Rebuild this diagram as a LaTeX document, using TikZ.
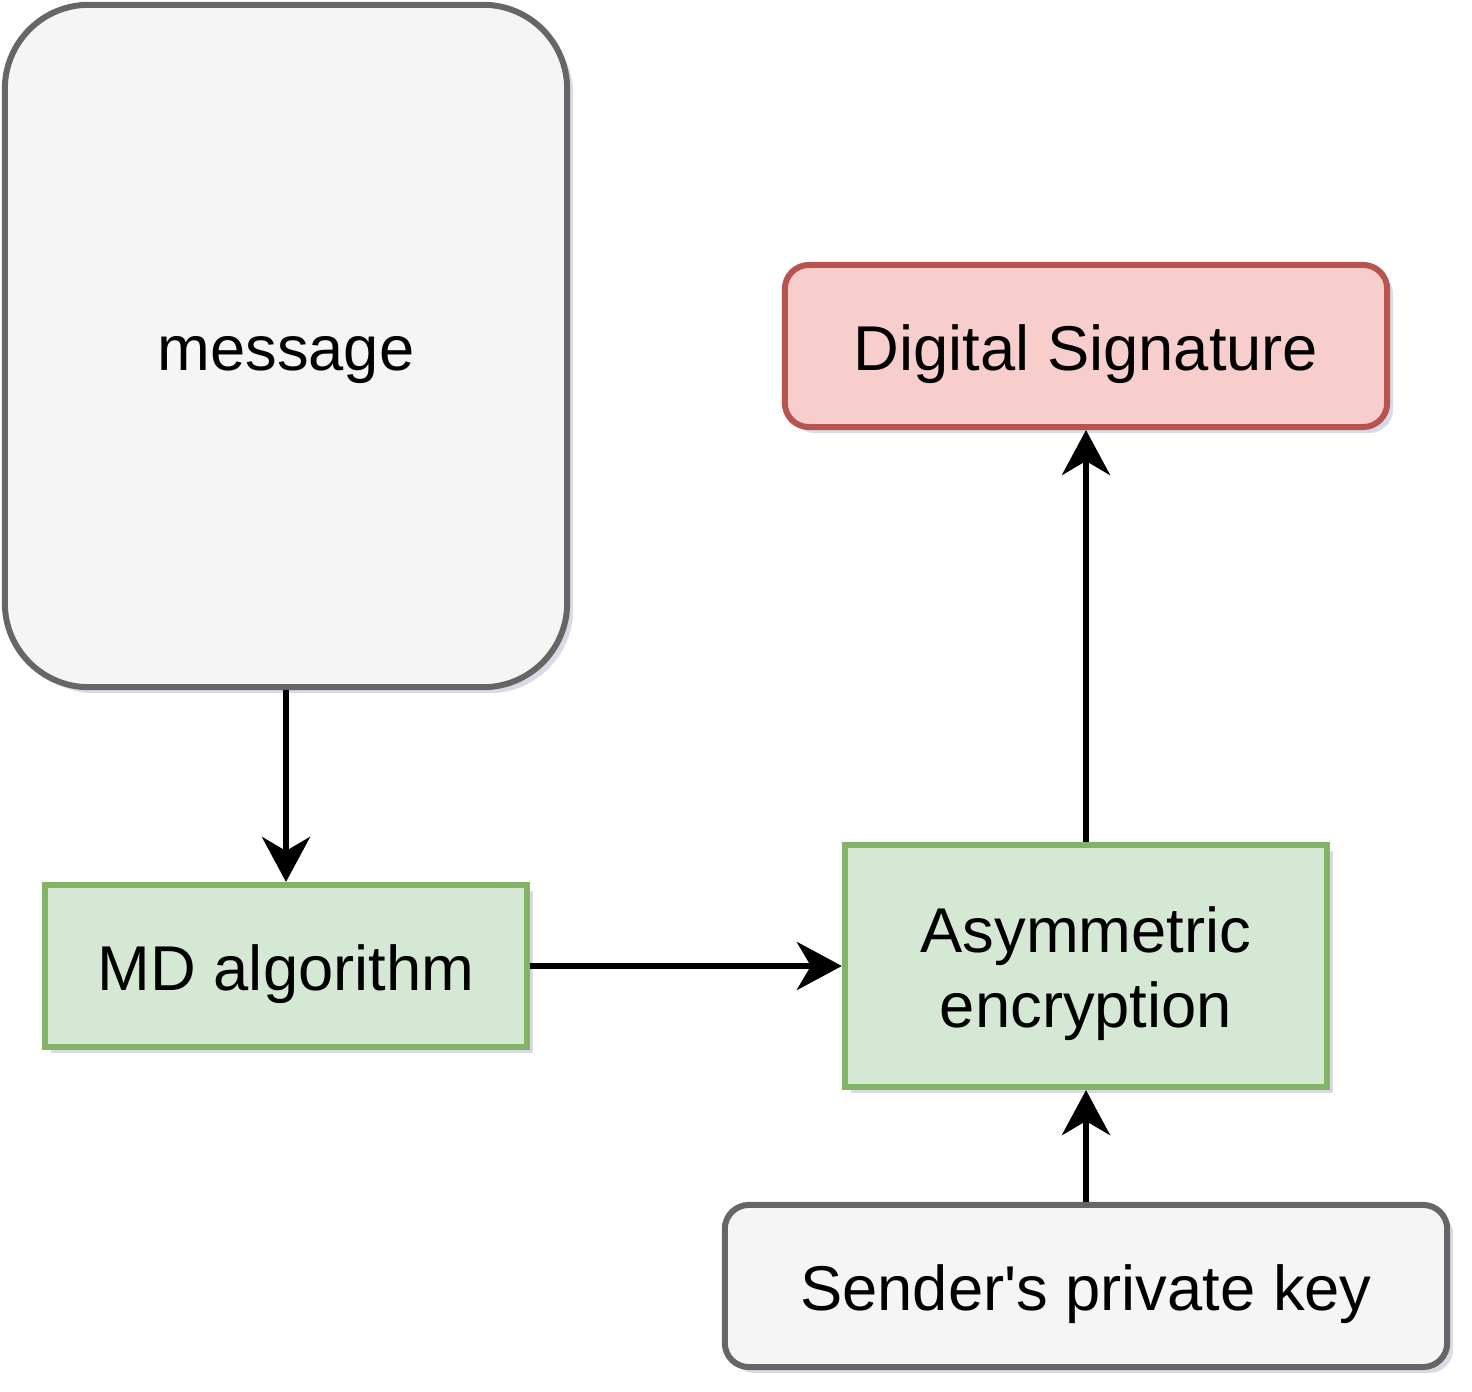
\documentclass[tikz,border=0pt]{standalone}
\usepackage{fontspec}
\setmainfont{Liberation Sans}
\usetikzlibrary{arrows.meta,shadows}
\definecolor{greyfill}{HTML}{F5F5F5}
\definecolor{greyline}{HTML}{666666}
\definecolor{greenfill}{HTML}{D5E8D4}
\definecolor{greenline}{HTML}{82B366}
\definecolor{redfill}{HTML}{F8CECC}
\definecolor{redline}{HTML}{B85450}
\definecolor{shade}{RGB}{170,170,205}
\tikzset{
  box/.style={draw, line width=1.7pt, align=center, inner sep=0pt,
    font=\fontsize{18pt}{21.2pt}\selectfont, text height=0.63cm, text depth=0.15cm,
    drop shadow={shadow xshift=0.06cm, shadow yshift=-0.06cm, fill=shade, opacity=0.45}},
  greybox/.style={box, fill=greyfill, draw=greyline},
  greenbox/.style={box, fill=greenfill, draw=greenline},
  redbox/.style={box, fill=redfill, draw=redline},
  flow/.style={line width=1.7pt, -{Stealth[length=0.45cm, width=0.48cm, inset=0.14cm]}}
}
\begin{document}
\begin{tikzpicture}[x=0.01cm, y=-0.01cm]
	    \useasboundingbox (0,0) rectangle (1472,1392);
	    \node[greybox, rounded corners=0.84cm, minimum width=5.62cm, minimum height=6.82cm] (msg) at (286, 346) {message};
	    \node[greenbox, minimum width=4.82cm, minimum height=1.62cm] (md) at (286, 966) {MD algorithm};
	    \node[greenbox, minimum width=4.82cm, minimum height=2.42cm, text height=1.38cm] (asym) at (1086, 966) {Asymmetric\\encryption};
	    \node[redbox, rounded corners=0.24cm, minimum width=6.02cm, minimum height=1.62cm] (sig) at (1086, 346) {Digital Signature};
	    \node[greybox, rounded corners=0.24cm, minimum width=7.22cm, minimum height=1.62cm] (key) at (1086, 1286) {Sender\textquotesingle s private key};
	    \draw[flow] (msg) -- (md);
	    \draw[flow] (md) -- (asym);
	    \draw[flow] (key) -- (asym);
	    \draw[flow] (asym) -- (sig);
        \end{tikzpicture}
\end{document}
